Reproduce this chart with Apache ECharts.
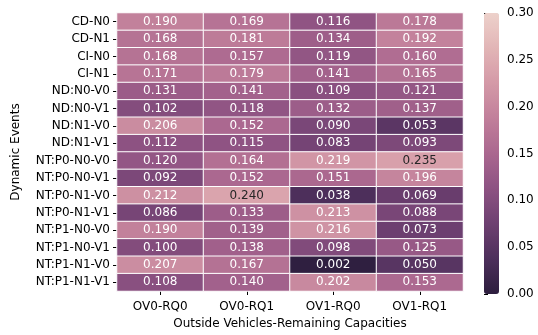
<!DOCTYPE html>
<html>
<head>
<meta charset="utf-8">
<script src="https://cdn.jsdelivr.net/npm/echarts@6/dist/echarts.min.js"></script>
<style>
  html, body { margin: 0; padding: 0; background: #fff; }
  #chart { width: 538px; height: 335px; }
</style>
</head>
<body>
<div id="chart"></div>
<script>
const events = [
  "CD-N0", "CD-N1", "CI-N0", "CI-N1",
  "ND:N0-V0", "ND:N0-V1", "ND:N1-V0", "ND:N1-V1",
  "NT:P0-N0-V0", "NT:P0-N0-V1", "NT:P0-N1-V0", "NT:P0-N1-V1",
  "NT:P1-N0-V0", "NT:P1-N0-V1", "NT:P1-N1-V0", "NT:P1-N1-V1"
];
const settings = ["OV0-RQ0", "OV0-RQ1", "OV1-RQ0", "OV1-RQ1"];

// one array per column, top row first
const ov0rq0 = [0.190, 0.168, 0.168, 0.171, 0.131, 0.102, 0.206, 0.112, 0.120, 0.092, 0.212, 0.086, 0.190, 0.100, 0.207, 0.108];
const ov0rq1 = [0.169, 0.181, 0.157, 0.179, 0.141, 0.118, 0.152, 0.115, 0.164, 0.152, 0.240, 0.133, 0.139, 0.138, 0.167, 0.140];
const ov1rq0 = [0.116, 0.134, 0.119, 0.141, 0.109, 0.132, 0.090, 0.083, 0.219, 0.151, 0.038, 0.213, 0.216, 0.098, 0.002, 0.202];
const ov1rq1 = [0.178, 0.192, 0.160, 0.165, 0.121, 0.137, 0.053, 0.093, 0.235, 0.196, 0.069, 0.088, 0.073, 0.125, 0.050, 0.153];

const colorbarTicks = [0, 0.05, 0.10, 0.15, 0.20, 0.25, 0.30];

// reversed seaborn cubehelix (dark -> light)
const palette = ['#2d1e3e', '#4d2f5b', '#6e4071', '#8d5282', '#aa678f',
                 '#c17f9a', '#d499a7', '#e2b5b6', '#edd1cb'];

const FONT = "DejaVu Sans";
const columns = [ov0rq0, ov0rq1, ov1rq0, ov1rq1];
const cells = [];
columns.forEach((col, ci) => {
  col.forEach((v, ri) => {
    cells.push({
      value: [ci, ri, v],
      label: { color: v > 0.23 ? '#262626' : '#ffffff' }
    });
  });
});

const chart = echarts.init(document.getElementById('chart'));
chart.setOption({
  animation: false,
  textStyle: { fontFamily: FONT },
  grid: [
    { left: 117, right: 75, top: 13, bottom: 41 },
    { left: 484, top: 13, width: 15, height: 281 }
  ],
  xAxis: [
    {
      type: 'category', data: settings, gridIndex: 0,
      name: 'Outside Vehicles-Remaining Capacities',
      nameLocation: 'middle', nameGap: 27,
      nameTextStyle: { fontSize: 12, color: '#000', fontFamily: FONT },
      axisLine: { show: false },
      axisTick: { show: true, alignWithLabel: true, length: 4, lineStyle: { color: '#000' } },
      axisLabel: { fontSize: 12, color: '#000', margin: 10, fontFamily: FONT },
      splitLine: { show: false }
    },
    { type: 'value', gridIndex: 1, show: false, min: 0, max: 1 }
  ],
  yAxis: [
    {
      type: 'category', data: events, inverse: true, gridIndex: 0,
      name: 'Dynamic Events',
      nameLocation: 'middle', nameGap: 95, nameRotate: 90,
      nameTextStyle: { fontSize: 12, color: '#000', fontFamily: FONT },
      axisLine: { show: false },
      axisTick: { show: true, alignWithLabel: true, length: 4, lineStyle: { color: '#000' } },
      axisLabel: { fontSize: 12, color: '#000', margin: 7, fontFamily: FONT },
      splitLine: { show: false }
    },
    {
      type: 'value', gridIndex: 1, position: 'right',
      min: colorbarTicks[0], max: colorbarTicks[colorbarTicks.length - 1], interval: 0.05,
      axisLine: { show: false },
      axisTick: { show: true, length: 4, lineStyle: { color: '#000' } },
      axisLabel: { fontSize: 12, color: '#000', margin: 8, fontFamily: FONT,
                   formatter: v => v.toFixed(2) },
      splitLine: { show: false }
    }
  ],
  visualMap: {
    type: 'continuous',
    min: 0, max: 0.3,
    orient: 'vertical',
    left: 484, top: 13,
    padding: 0,
    itemWidth: 15, itemHeight: 281,
    calculable: false,
    hoverLink: false,
    text: null,
    seriesIndex: 0,
    inRange: { color: palette }
  },
  series: [{
    type: 'heatmap',
    xAxisIndex: 0, yAxisIndex: 0,
    data: cells,
    label: {
      show: true, fontSize: 12, fontFamily: FONT,
      formatter: p => p.value[2].toFixed(3)
    },
    itemStyle: { borderColor: '#ffffff', borderWidth: 1 },
    emphasis: { disabled: true }
  }]
});
</script>
</body>
</html>
